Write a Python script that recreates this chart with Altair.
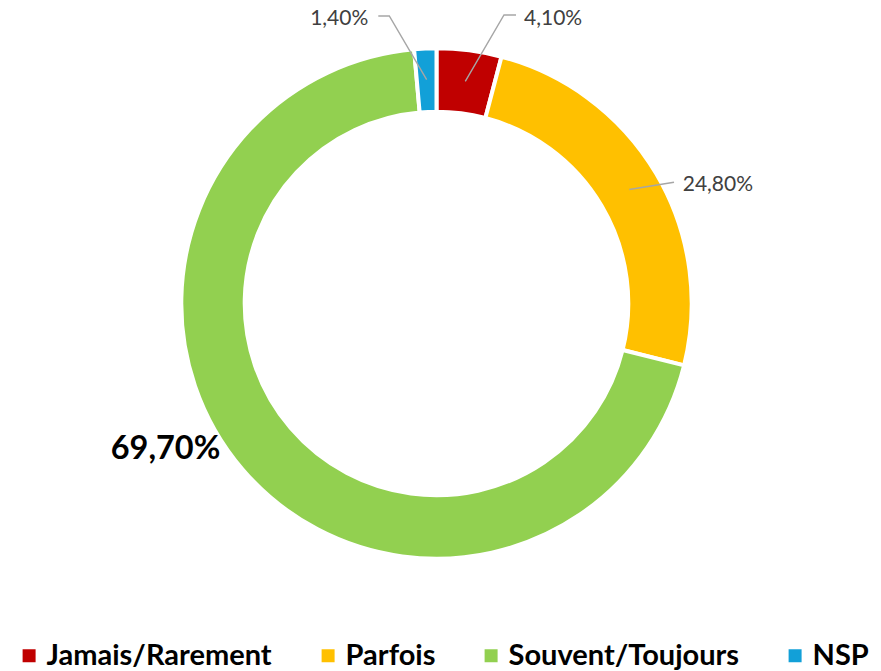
import math
import altair as alt
import pandas as pd

# ---- data ----
categories = ["Jamais/Rarement", "Parfois", "Souvent/Toujours", "NSP"]
values = [4.1, 24.8, 69.7, 1.4]
value_labels = ["4,10%", "24,80%", "69,70%", "1,40%"]
colors = ["#C00000", "#FFC000", "#92D050", "#12A0D8"]

# ---- layout (chart pixel coordinates) ----
CX, CY = 428.5, 295.5
R_IN, R_OUT = 191.8, 255.2
R_ANCHOR = 224

# label placement: x, baseline y, align, bold
label_x = [516.0, 674.7, 157.5, 360.3]
label_y = [16.5, 183.0, 451.0, 16.5]
label_align = ["left", "left", "center", "right"]
label_bold = [False, False, True, False]
# leader-line elbow / end points (after the anchor inside the slice)
leader_pts = {
    "Jamais/Rarement": [(496.0, 7.0), (508.0, 7.0)],
    "Parfois": [(666.0, 174.3)],
    "NSP": [(381.3, 8.0), (370.3, 8.0)],
}

df = pd.DataFrame({
    "cat": categories,
    "value": values,
    "label": value_labels,
    "order": list(range(len(categories))),
    "lx": label_x,
    "ly": label_y,
    "align": label_align,
    "bold": label_bold,
})

total = sum(values)
cum = 0.0
rows = []
for c, v in zip(categories, values):
    mid = (cum + v / 2) / total * 2 * math.pi
    cum += v
    if c in leader_pts:
        ax = CX + R_ANCHOR * math.sin(mid)
        ay = CY - R_ANCHOR * math.cos(mid)
        pts = [(ax, ay)] + leader_pts[c]
        for i, (px, py) in enumerate(pts):
            rows.append({"cat": c, "seq": i, "x": px, "y": py})
lines_df = pd.DataFrame(rows)

arc = alt.Chart(df).mark_arc(
    innerRadius=R_IN, outerRadius=R_OUT, stroke="white", strokeWidth=4
).encode(
    theta=alt.Theta("value:Q", stack=True),
    order=alt.Order("order:Q"),
    color=alt.Color(
        "cat:N",
        scale=alt.Scale(domain=categories, range=colors),
        legend=alt.Legend(
            orient="none", legendX=6.6, legendY=633, direction="horizontal",
            title=None, symbolType="square", symbolSize=169, symbolStrokeWidth=0,
            labelFont="Lato", labelFontWeight="bold", labelFontSize=29,
            labelColor="black", labelOffset=3, columnPadding=41,
            labelLimit=400, padding=0,
        ),
    ),
    x=alt.value(CX),
    y=alt.value(CY),
)

leaders = alt.Chart(lines_df).mark_line(color="#A6A6A6", strokeWidth=1.4).encode(
    x=alt.X("x:Q", scale=None, axis=None),
    y=alt.Y("y:Q", scale=None, axis=None),
    detail="cat:N",
    order="seq:Q",
)

def text_layer(align, bold):
    base = alt.Chart(df).transform_filter(
        (alt.datum.align == align) & (alt.datum.bold == bold)
    )
    if bold:
        m = base.mark_text(font="Lato", fontSize=32.5, fontWeight="bold",
                           color="black", align=align, baseline="alphabetic")
    else:
        m = base.mark_text(font="Lato", fontSize=21, color="#404040",
                           align=align, baseline="alphabetic")
    return m.encode(
        x=alt.X("lx:Q", scale=None, axis=None),
        y=alt.Y("ly:Q", scale=None, axis=None),
        text="label:N",
    )

chart = alt.layer(
    arc, leaders,
    text_layer("left", False), text_layer("right", False), text_layer("center", True),
).properties(
    width=865, height=663, autosize=alt.AutoSizeParams(type="none"), padding=0,
    background="white",
).configure_view(stroke=None)

chart.save("out.html", embed_options={"renderer": "svg", "actions": False})
